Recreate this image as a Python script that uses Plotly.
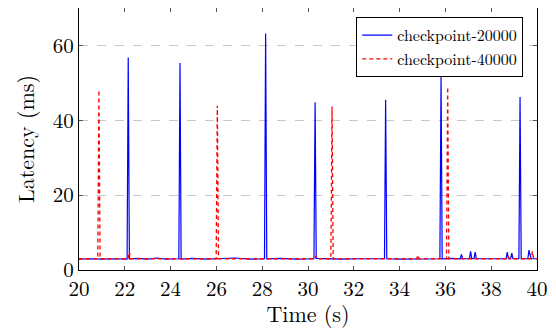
import plotly.graph_objects as go

# checkpoint-20000 (blue, solid)
time_20000 = [20.0, 20.5, 21.0, 21.5, 22.10, 22.15, 22.20, 22.6, 23.0, 23.4, 23.8,
              24.36, 24.41, 24.46, 25.0, 25.5, 26.0, 26.8, 27.5, 28.10, 28.15, 28.20,
              28.8, 29.5, 30.26, 30.31, 30.36, 30.8, 31.5, 32.2, 33.0, 33.34, 33.39,
              33.44, 34.0, 34.6, 35.2, 35.76, 35.81, 35.86, 36.3, 36.65, 36.70, 36.75,
              37.05, 37.10, 37.15, 37.25, 37.30, 37.35, 38.0, 38.65, 38.70, 38.75,
              38.85, 38.90, 38.95, 39.21, 39.26, 39.31, 39.6, 39.65, 39.70, 39.75, 40.0]
lat_20000 = [2.9, 3.0, 2.9, 3.0, 2.9, 56.8, 3.0, 3.1, 2.9, 3.2, 2.9,
             3.0, 55.3, 2.9, 3.1, 2.9, 3.0, 3.2, 2.9, 3.0, 63.2, 3.0,
             3.1, 2.9, 3.0, 44.8, 3.1, 3.0, 2.9, 3.0, 3.1, 3.0, 45.5,
             3.0, 2.9, 3.0, 3.1, 3.0, 51.8, 3.0, 3.1, 3.0, 4.2, 3.0,
             3.0, 5.0, 3.0, 3.1, 4.8, 3.0, 3.0, 3.0, 4.8, 3.0,
             3.0, 4.5, 3.0, 3.0, 46.2, 3.0, 3.0, 5.3, 4.0, 3.0, 3.0]

# checkpoint-40000 (red, dashed)
time_40000 = [20.0, 20.82, 20.87, 20.92, 21.5, 22.15, 22.20, 22.25, 23.0, 24.0, 25.0,
              25.99, 26.04, 26.09, 27.0, 28.0, 29.0, 30.30, 30.35, 30.40, 31.00, 31.05,
              31.10, 32.0, 33.0, 34.0, 34.75, 34.80, 34.85, 36.05, 36.10, 36.15, 37.0,
              38.0, 38.70, 38.75, 38.80, 39.75, 39.80, 39.85, 40.0]
lat_40000 = [3.0, 3.0, 48.1, 3.0, 3.0, 3.0, 5.0, 3.0, 3.0, 3.0, 3.0,
             3.0, 43.9, 3.0, 3.0, 3.0, 3.0, 3.0, 3.8, 3.0, 3.0, 43.7,
             3.0, 3.0, 3.0, 3.0, 3.0, 4.0, 3.0, 3.0, 48.9, 3.0, 3.0,
             3.0, 3.0, 3.6, 3.0, 3.0, 5.0, 3.0, 3.0]

x_ticks = [20, 22, 24, 26, 28, 30, 32, 34, 36, 38, 40]
y_ticks = [0, 20, 40, 60]

FONT = "Latin Modern Roman, CMU Serif, Liberation Serif, serif"

fig = go.Figure()
fig.add_trace(go.Scatter(x=time_20000, y=lat_20000, mode="lines", name="checkpoint-20000",
                         line=dict(color="#0000ff", width=1.2)))
fig.add_trace(go.Scatter(x=time_40000, y=lat_40000, mode="lines", name="checkpoint-40000",
                         line=dict(color="#ff0000", width=1.3, dash="4px,3px")))

# page body has an 8px margin, so the figure is sized to fill the rest of the window
fig.update_layout(
    width=548, height=320,
    margin=dict(l=71, r=19, t=0, b=58, autoexpand=False),
    paper_bgcolor="white", plot_bgcolor="white",
    font=dict(family=FONT, size=21, color="black"),
    showlegend=True,
    legend=dict(x=0.97, y=0.965, xanchor="right", yanchor="top",
                bgcolor="white", bordercolor="black", borderwidth=1,
                font=dict(size=16), tracegroupgap=0, itemwidth=30),
    xaxis=dict(range=[20, 40], tickvals=x_ticks, ticktext=[str(v) for v in x_ticks],
               ticks="inside", ticklen=4, tickcolor="#555", showline=True, linecolor="black",
               linewidth=1, mirror="allticks", showgrid=False, zeroline=False,
               title=dict(text="Time (s)", font=dict(size=22), standoff=0),
               tickfont=dict(size=21)),
    yaxis=dict(range=[0, 70], tickvals=y_ticks, ticktext=[str(v) for v in y_ticks],
               ticks="inside", ticklen=4, tickcolor="#555", showline=True, linecolor="black",
               linewidth=1, mirror="allticks", showgrid=True, gridcolor="#c8c8c8",
               griddash="dash", gridwidth=1, zeroline=False,
               title=dict(text="Latency (ms)", font=dict(size=22), standoff=12),
               tickfont=dict(size=21)),
)

fig.write_html("out.html")
